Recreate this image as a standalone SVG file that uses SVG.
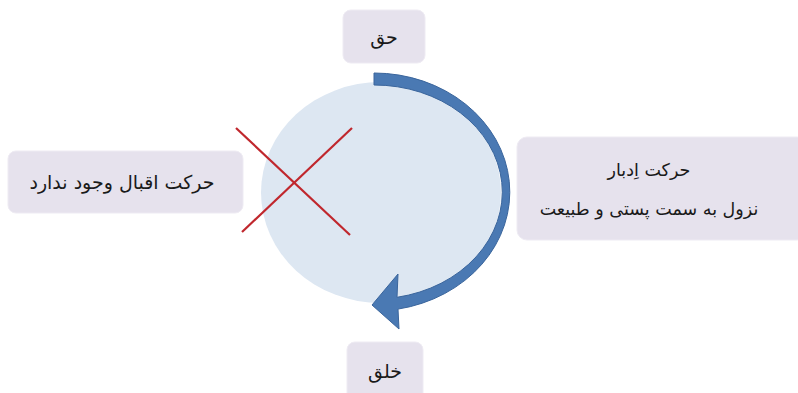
<svg xmlns="http://www.w3.org/2000/svg" width="798" height="393" viewBox="0 0 798 393">
<style>
.box{fill:#e6e2ed;stroke:#eeebf3;stroke-width:1}
.t{font-family:"DejaVu Sans","Noto Sans",sans-serif;font-size:19px;fill:#1a1a1a;text-anchor:middle}
.s{font-size:17.5px}
.x{stroke:#c0272d;stroke-width:2.2;fill:none}
</style>
<rect width="798" height="393" fill="#ffffff"/>
<g id="circle"><ellipse cx="381" cy="192.5" rx="120" ry="110.5" fill="#dde7f2"/></g>
<g id="connectors">
<path d="M374,73 A136,119 0 0 1 398,309.1 L399,329 L372,305 L398,274 L397,297.3 A128,107 0 0 0 374,85 Z" fill="#4a79b3" stroke="#3a659c" stroke-width="1"/>
<line class="x" x1="236" y1="128" x2="350" y2="235"/>
<line class="x" x1="352" y1="128" x2="242" y2="232"/>
</g>
<g id="haq"><rect class="box" x="343" y="10" width="82" height="53" rx="8"/><text class="t" x="384" y="44" direction="rtl">حق</text></g>
<g id="left"><rect class="box" x="8" y="151" width="235" height="62" rx="8"/><text class="t" x="122" y="189" direction="rtl">حرکت اقبال وجود ندارد</text></g>
<g id="right"><rect class="box" x="517" y="137" width="290" height="103" rx="10"/><text class="t s" x="649" y="176" direction="rtl">حرکت اِدبار</text><text class="t s" x="649" y="215" direction="rtl">نزول به سمت پستی و طبیعت</text></g>
<g id="khalq"><rect class="box" x="347" y="342" width="76" height="60" rx="8"/><text class="t" x="385" y="378" direction="rtl">خلق</text></g>
</svg>
